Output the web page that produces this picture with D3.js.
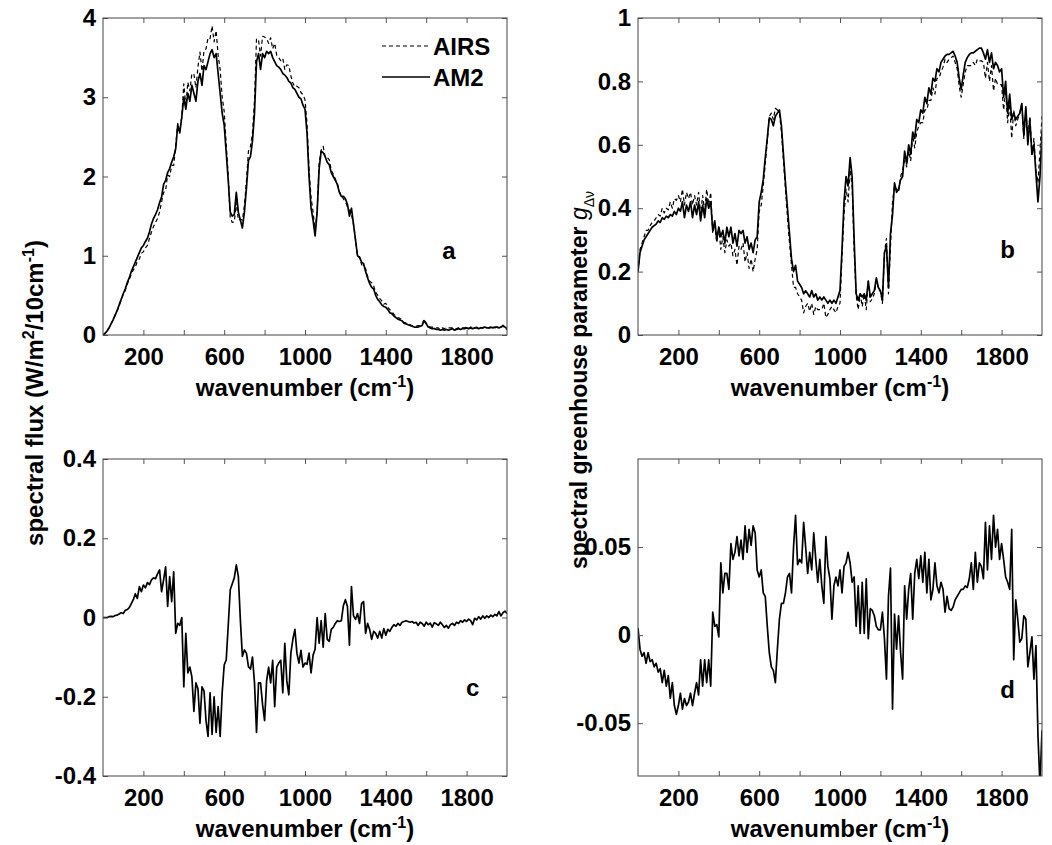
<!DOCTYPE html>
<html>
<head>
<meta charset="utf-8">
<script src="https://cdn.jsdelivr.net/npm/d3@7"></script>
<style>
  body { margin: 0; background: #fff; }
  svg text { font-family: "Liberation Sans", Arial, Helvetica, sans-serif; font-weight: bold; fill: #000; }
</style>
</head>
<body>
<svg id="fig" width="1052" height="845"></svg>
<script>
// wavenumber grid (cm-1), one point every 10 cm-1
const wavenumber = d3.range(0, 2001, 10);
const xTicks = [200, 400, 600, 800, 1000, 1200, 1400, 1600, 1800];
const xTickLabels = [200, 600, 1000, 1400, 1800];

// panel a: spectral flux (W/m2/10cm-1)
const airsFlux = [0.00,
  0.02,0.05,0.09,0.14,0.19,0.25,0.30,0.37,0.44,0.51,
  0.56,0.64,0.70,0.77,0.82,0.86,0.93,0.96,1.03,1.05,
  1.10,1.13,1.22,1.30,1.37,1.42,1.47,1.55,1.68,1.80,
  1.82,2.02,2.00,2.14,2.14,2.39,2.67,2.57,2.75,3.17,
  2.89,3.19,3.08,3.30,3.29,3.12,3.38,3.57,3.33,3.59,
  3.61,3.75,3.74,3.90,3.70,3.84,3.53,3.35,3.00,2.82,
  2.41,2.01,1.48,1.42,1.43,1.67,1.45,1.46,1.45,1.63,
  1.94,2.32,2.38,2.55,2.97,3.74,3.72,3.52,3.77,3.76,
  3.74,3.68,3.75,3.61,3.68,3.53,3.50,3.46,3.49,3.35,
  3.41,3.40,3.27,3.18,3.13,3.14,3.12,3.06,3.03,2.97,
  2.67,2.09,1.74,1.55,1.33,1.55,2.17,2.33,2.38,2.24,
  2.24,2.21,2.08,2.03,1.97,1.91,1.81,1.76,1.72,1.68,
  1.62,1.57,1.52,1.40,1.21,0.99,0.99,0.89,0.86,0.84,
  0.74,0.68,0.66,0.62,0.54,0.50,0.46,0.43,0.39,0.40,
  0.35,0.32,0.30,0.26,0.24,0.22,0.21,0.19,0.16,0.15,
  0.14,0.13,0.12,0.11,0.11,0.12,0.12,0.14,0.20,0.15,
  0.12,0.10,0.10,0.09,0.09,0.09,0.07,0.09,0.08,0.09,
  0.09,0.09,0.09,0.08,0.08,0.09,0.08,0.09,0.09,0.10,
  0.08,0.10,0.10,0.09,0.10,0.08,0.09,0.09,0.10,0.09,
  0.09,0.09,0.09,0.09,0.10,0.08,0.10,0.11,0.08,0.07];

const am2Flux = [0.00,
  0.02,0.05,0.09,0.14,0.19,0.25,0.31,0.38,0.45,0.52,
  0.58,0.66,0.72,0.80,0.86,0.92,0.98,1.04,1.10,1.13,
  1.18,1.22,1.30,1.40,1.47,1.52,1.58,1.67,1.74,1.90,
  1.95,2.05,2.10,2.18,2.25,2.35,2.65,2.55,2.75,3.00,
  2.85,3.05,2.95,3.15,3.05,2.95,3.20,3.30,3.15,3.40,
  3.35,3.45,3.55,3.60,3.50,3.55,3.30,3.05,2.80,2.65,
  2.30,1.95,1.55,1.50,1.52,1.80,1.55,1.45,1.35,1.55,
  1.85,2.20,2.25,2.45,2.80,3.45,3.55,3.35,3.55,3.50,
  3.58,3.55,3.58,3.50,3.45,3.40,3.38,3.35,3.30,3.28,
  3.25,3.20,3.18,3.12,3.10,3.05,3.00,2.98,2.90,2.85,
  2.55,2.00,1.60,1.45,1.25,1.55,2.10,2.32,2.30,2.25,
  2.18,2.15,2.05,2.00,1.95,1.90,1.80,1.75,1.75,1.72,
  1.65,1.50,1.60,1.40,1.20,1.00,0.98,0.92,0.90,0.80,
  0.72,0.65,0.60,0.58,0.50,0.45,0.42,0.38,0.36,0.35,
  0.32,0.28,0.27,0.24,0.22,0.20,0.19,0.18,0.15,0.14,
  0.13,0.12,0.11,0.10,0.10,0.10,0.11,0.12,0.18,0.14,
  0.10,0.09,0.08,0.08,0.07,0.07,0.06,0.07,0.06,0.07,
  0.06,0.07,0.08,0.06,0.07,0.08,0.07,0.08,0.08,0.09,
  0.08,0.09,0.08,0.09,0.09,0.08,0.09,0.09,0.10,0.09,
  0.09,0.10,0.09,0.10,0.10,0.09,0.10,0.12,0.10,0.08];

// panel b: spectral greenhouse parameter
const airsG = [0.20,
  0.27,0.29,0.31,0.33,0.33,0.345,0.355,0.36,0.37,0.38,
  0.375,0.40,0.385,0.40,0.395,0.42,0.40,0.43,0.425,0.44,
  0.42,0.46,0.41,0.45,0.43,0.45,0.41,0.44,0.41,0.45,
  0.38,0.44,0.39,0.46,0.41,0.45,0.32,0.35,0.29,0.34,
  0.27,0.31,0.26,0.30,0.28,0.29,0.25,0.27,0.22,0.28,
  0.27,0.29,0.23,0.26,0.21,0.24,0.20,0.24,0.27,0.39,
  0.41,0.47,0.54,0.61,0.69,0.70,0.68,0.715,0.71,0.70,
  0.64,0.55,0.46,0.37,0.29,0.22,0.15,0.15,0.13,0.12,
  0.11,0.07,0.09,0.10,0.075,0.10,0.065,0.09,0.08,0.08,
  0.08,0.10,0.055,0.065,0.08,0.09,0.08,0.07,0.09,0.10,
  0.25,0.38,0.46,0.42,0.52,0.47,0.27,0.125,0.08,0.13,
  0.09,0.13,0.08,0.17,0.105,0.115,0.13,0.175,0.145,0.137,
  0.10,0.26,0.305,0.13,0.28,0.42,0.47,0.46,0.45,0.50,
  0.52,0.55,0.53,0.58,0.55,0.63,0.59,0.64,0.66,0.67,
  0.67,0.71,0.71,0.74,0.74,0.78,0.76,0.81,0.81,0.83,
  0.845,0.87,0.86,0.87,0.875,0.88,0.86,0.84,0.785,0.75,
  0.79,0.83,0.85,0.85,0.85,0.86,0.85,0.87,0.865,0.865,
  0.86,0.81,0.86,0.80,0.85,0.77,0.81,0.79,0.79,0.79,
  0.71,0.77,0.67,0.73,0.62,0.71,0.66,0.68,0.70,0.73,
  0.62,0.71,0.62,0.69,0.57,0.62,0.52,0.48,0.58,0.69];

const am2G = [0.20,
  0.26,0.28,0.30,0.31,0.32,0.33,0.34,0.345,0.35,0.36,
  0.355,0.37,0.365,0.375,0.37,0.38,0.375,0.39,0.38,0.40,
  0.39,0.42,0.37,0.41,0.39,0.42,0.37,0.41,0.38,0.42,
  0.36,0.41,0.37,0.43,0.40,0.42,0.33,0.36,0.30,0.34,
  0.31,0.33,0.29,0.34,0.31,0.34,0.29,0.32,0.28,0.33,
  0.32,0.33,0.29,0.31,0.27,0.29,0.26,0.30,0.31,0.42,
  0.45,0.49,0.56,0.62,0.685,0.68,0.66,0.69,0.70,0.71,
  0.66,0.57,0.48,0.40,0.32,0.24,0.20,0.22,0.17,0.16,
  0.15,0.13,0.14,0.13,0.12,0.14,0.12,0.13,0.11,0.12,
  0.11,0.12,0.11,0.10,0.11,0.10,0.11,0.10,0.12,0.14,
  0.27,0.42,0.50,0.47,0.56,0.50,0.30,0.13,0.11,0.13,
  0.12,0.13,0.11,0.17,0.12,0.13,0.14,0.18,0.15,0.14,
  0.11,0.26,0.28,0.15,0.32,0.38,0.48,0.45,0.46,0.49,
  0.50,0.58,0.54,0.60,0.57,0.64,0.62,0.68,0.67,0.71,
  0.70,0.75,0.73,0.78,0.76,0.81,0.80,0.84,0.83,0.86,
  0.87,0.88,0.885,0.885,0.89,0.895,0.88,0.86,0.81,0.775,
  0.82,0.86,0.875,0.885,0.89,0.89,0.895,0.90,0.905,0.905,
  0.89,0.87,0.90,0.86,0.89,0.84,0.86,0.85,0.83,0.84,
  0.75,0.80,0.70,0.76,0.68,0.70,0.68,0.69,0.70,0.73,
  0.63,0.72,0.60,0.68,0.57,0.60,0.51,0.42,0.50,0.64];

// panel c: flux difference AM2 - AIRS
const diffFlux = [0.000,
  0.000,0.000,0.002,0.003,0.002,0.005,0.006,0.009,0.012,0.010,
  0.018,0.020,0.025,0.035,0.045,0.060,0.048,0.078,0.065,0.082,
  0.075,0.088,0.083,0.095,0.100,0.098,0.110,0.120,0.065,0.095,
  0.128,0.028,0.103,0.040,0.115,-0.040,-0.015,-0.020,0.000,-0.175,
  -0.040,-0.140,-0.125,-0.150,-0.237,-0.165,-0.180,-0.267,-0.175,-0.185,
  -0.260,-0.300,-0.190,-0.295,-0.200,-0.290,-0.225,-0.300,-0.190,-0.120,
  -0.107,-0.020,0.070,0.085,0.100,0.133,0.104,-0.006,-0.098,-0.082,
  -0.090,-0.124,-0.130,-0.100,-0.165,-0.290,-0.165,-0.165,-0.220,-0.260,
  -0.160,-0.125,-0.165,-0.108,-0.225,-0.125,-0.115,-0.108,-0.190,-0.065,
  -0.160,-0.195,-0.090,-0.055,-0.030,-0.090,-0.115,-0.083,-0.125,-0.115,
  -0.118,-0.090,-0.140,-0.095,-0.080,0.000,-0.065,-0.008,-0.075,0.010,
  -0.055,-0.060,-0.030,-0.025,-0.015,-0.008,-0.010,-0.008,0.030,0.045,
  0.028,-0.070,0.078,0.005,-0.005,0.010,-0.015,0.035,0.040,-0.040,
  -0.015,-0.030,-0.055,-0.035,-0.040,-0.052,-0.035,-0.052,-0.028,-0.045,
  -0.030,-0.035,-0.025,-0.018,-0.022,-0.015,-0.020,-0.012,-0.010,-0.008,
  -0.010,-0.012,-0.010,-0.014,-0.012,-0.020,-0.012,-0.015,-0.022,-0.012,
  -0.018,-0.014,-0.024,-0.013,-0.016,-0.020,-0.012,-0.018,-0.025,-0.020,
  -0.027,-0.018,-0.015,-0.020,-0.012,-0.015,-0.008,-0.012,-0.006,-0.010,
  -0.004,-0.008,-0.018,-0.002,-0.006,0.002,-0.004,0.004,-0.002,0.004,
  0.000,0.006,0.002,0.008,0.004,0.015,0.004,0.012,0.016,0.010];

// panel d: greenhouse parameter difference AM2 - AIRS
const diffG = [0.004,
  -0.008,-0.012,-0.010,-0.016,-0.010,-0.015,-0.014,-0.018,-0.016,-0.021,
  -0.019,-0.027,-0.020,-0.029,-0.023,-0.036,-0.027,-0.040,-0.045,-0.040,
  -0.033,-0.042,-0.036,-0.040,-0.038,-0.033,-0.040,-0.033,-0.027,-0.034,
  -0.014,-0.029,-0.014,-0.027,-0.014,-0.029,0.013,0.005,0.006,-0.001,
  0.041,0.024,0.035,0.035,0.026,0.052,0.043,0.047,0.056,0.045,
  0.054,0.043,0.062,0.047,0.060,0.051,0.062,0.058,0.037,0.033,
  0.037,0.024,0.022,0.005,-0.010,-0.018,-0.020,-0.027,-0.008,0.009,
  0.018,0.018,0.024,0.033,0.035,0.024,0.050,0.068,0.040,0.043,
  0.041,0.064,0.050,0.035,0.047,0.037,0.058,0.043,0.030,0.043,
  0.028,0.018,0.056,0.039,0.032,0.009,0.028,0.033,0.028,0.037,
  0.024,0.039,0.041,0.047,0.041,0.030,0.033,0.005,0.028,0.001,
  0.030,0.001,0.032,-0.002,0.015,0.014,0.011,0.005,0.003,0.003,
  0.013,-0.002,-0.025,0.022,0.038,-0.042,0.012,-0.008,0.011,-0.010,
  -0.025,0.028,0.009,0.026,0.035,0.009,0.035,0.043,0.032,0.045,
  0.030,0.047,0.024,0.043,0.020,0.026,0.041,0.028,0.024,0.030,
  0.026,0.013,0.022,0.015,0.014,0.016,0.020,0.022,0.024,0.026,
  0.026,0.028,0.027,0.032,0.041,0.026,0.047,0.030,0.041,0.039,
  0.032,0.064,0.037,0.062,0.043,0.068,0.050,0.060,0.043,0.052,
  0.043,0.033,0.030,0.026,0.060,-0.014,0.020,0.009,-0.004,-0.002,
  0.011,0.009,-0.018,-0.010,-0.001,-0.025,-0.006,-0.057,-0.085,-0.054];

const yTicksA = [0, 1, 2, 3, 4];
const yTicksB = [0, 0.2, 0.4, 0.6, 0.8, 1];
const yTicksC = [-0.4, -0.2, 0, 0.2, 0.4];
const yTicksD = [-0.05, 0, 0.05];

// layout
const plotW = 404, plotH = 317;
const fontSize = 24;
const supSize = 16;
const svg = d3.select('#fig');

const panels = [
  { name: 'a', left: 103, top: 18, yDomain: [0, 4], yTicks: yTicksA,
    series: [{ values: airsFlux, dashed: true }, { values: am2Flux }], letterX: 1712, letterY: 1.07 },
  { name: 'b', left: 638, top: 18, yDomain: [0, 1], yTicks: yTicksB,
    series: [{ values: airsG, dashed: true }, { values: am2G }], letterX: 1830, letterY: 0.27 },
  { name: 'c', left: 103, top: 459, yDomain: [-0.4, 0.4], yTicks: yTicksC,
    series: [{ values: diffFlux }], letterX: 1830, letterY: -0.178 },
  { name: 'd', left: 638, top: 459, yDomain: [-0.08, 0.1], yTicks: yTicksD,
    series: [{ values: diffG }], letterX: 1830, letterY: -0.031 }
];

function styleAxis(g) {
  g.select('.domain').remove();
  g.selectAll('.tick line').attr('stroke', '#555');
  g.selectAll('.tick text').style('font-size', fontSize + 'px').attr('fill', '#000');
}

function Draw_Panel(p) {
  const x = d3.scaleLinear().domain([0, 2000]).range([p.left, p.left + plotW]);
  const y = d3.scaleLinear().domain(p.yDomain).range([p.top + plotH, p.top]);
  const g = svg.append('g');

  svg.append('clipPath').attr('id', 'clip-' + p.name)
    .append('rect')
    .attr('x', p.left).attr('y', p.top)
    .attr('width', plotW).attr('height', plotH);

  const line = d3.line()
    .x((d, i) => x(wavenumber[i]))
    .y(d => y(d));

  // Draw spectra
  p.series.forEach(s => {
    g.append('path')
      .datum(s.values)
      .attr('d', line)
      .attr('fill', 'none')
      .attr('stroke', '#000')
      .attr('stroke-width', s.dashed ? 1.2 : 1.7)
      .attr('stroke-dasharray', s.dashed ? '4,3' : null)
      .attr('stroke-linejoin', 'round')
      .attr('clip-path', `url(#clip-${p.name})`);
  });

  const xFmt = d => xTickLabels.includes(d) ? d : '';
  const yFmt = d => String(d);

  // bottom / top axes
  g.append('g')
    .attr('transform', `translate(0,${p.top + plotH})`)
    .call(d3.axisBottom(x).tickValues(xTicks).tickFormat(xFmt).tickSizeInner(-5).tickSizeOuter(0).tickPadding(13))
    .call(styleAxis);
  g.append('g')
    .attr('transform', `translate(0,${p.top})`)
    .call(d3.axisTop(x).tickValues(xTicks).tickFormat('').tickSizeInner(-5).tickSizeOuter(0))
    .call(styleAxis);

  // left / right axes
  g.append('g')
    .attr('transform', `translate(${p.left},0)`)
    .call(d3.axisLeft(y).tickValues(p.yTicks).tickFormat(yFmt).tickSizeInner(-5).tickSizeOuter(0).tickPadding(7))
    .call(styleAxis);
  g.append('g')
    .attr('transform', `translate(${p.left + plotW},0)`)
    .call(d3.axisRight(y).tickValues(p.yTicks).tickFormat('').tickSizeInner(-5).tickSizeOuter(0))
    .call(styleAxis);

  // box
  g.append('rect')
    .attr('x', p.left).attr('y', p.top)
    .attr('width', plotW).attr('height', plotH)
    .attr('fill', 'none').attr('stroke', '#444').attr('stroke-width', 1);

  // x-axis label
  const xl = g.append('text')
    .attr('x', p.left + plotW / 2)
    .attr('y', p.top + plotH + 61)
    .style('text-anchor', 'middle')
    .style('font-size', fontSize + 'px');
  xl.append('tspan').text('wavenumber (cm');
  xl.append('tspan').attr('dy', -9).style('font-size', supSize + 'px').text('-1');
  xl.append('tspan').attr('dy', 9).text(')');

  // panel letter
  g.append('text')
    .attr('x', x(p.letterX))
    .attr('y', y(p.letterY))
    .attr('dy', '0.35em')
    .style('text-anchor', 'middle')
    .style('font-size', fontSize + 'px')
    .text(p.name);
}

panels.forEach(Draw_Panel);

// legend in panel a
const legend = svg.append('g');
const legendItems = [{ label: 'AIRS', dashed: true, y: 46 }, { label: 'AM2', dashed: false, y: 77 }];
legendItems.forEach(it => {
  legend.append('line')
    .attr('x1', 382).attr('x2', 430)
    .attr('y1', it.y).attr('y2', it.y)
    .attr('stroke', '#000')
    .attr('stroke-width', it.dashed ? 1.2 : 1.7)
    .attr('stroke-dasharray', it.dashed ? '4,3' : null);
  legend.append('text')
    .attr('x', 433).attr('y', it.y)
    .attr('dy', '0.36em')
    .style('font-size', fontSize + 'px')
    .text(it.label);
});

// y-axis labels
const yl1 = svg.append('text')
  .attr('transform', 'translate(43,393) rotate(-90)')
  .style('text-anchor', 'middle')
  .style('font-size', fontSize + 'px');
yl1.append('tspan').text('spectral flux (W/m');
yl1.append('tspan').attr('dy', -9).style('font-size', supSize + 'px').text('2');
yl1.append('tspan').attr('dy', 9).text('/10cm');
yl1.append('tspan').attr('dy', -9).style('font-size', supSize + 'px').text('-1');
yl1.append('tspan').attr('dy', 9).text(')');

const yl2 = svg.append('text')
  .attr('transform', 'translate(587,380) rotate(-90)')
  .style('text-anchor', 'middle')
  .style('font-size', '23px');
yl2.append('tspan').text('spectral greenhouse parameter ');
yl2.append('tspan').style('font-style', 'italic').style('font-weight', 'normal').text('g');
yl2.append('tspan').attr('dy', 7).style('font-size', '14px').style('font-weight', 'normal').text('Δν');
</script>
</body>
</html>
